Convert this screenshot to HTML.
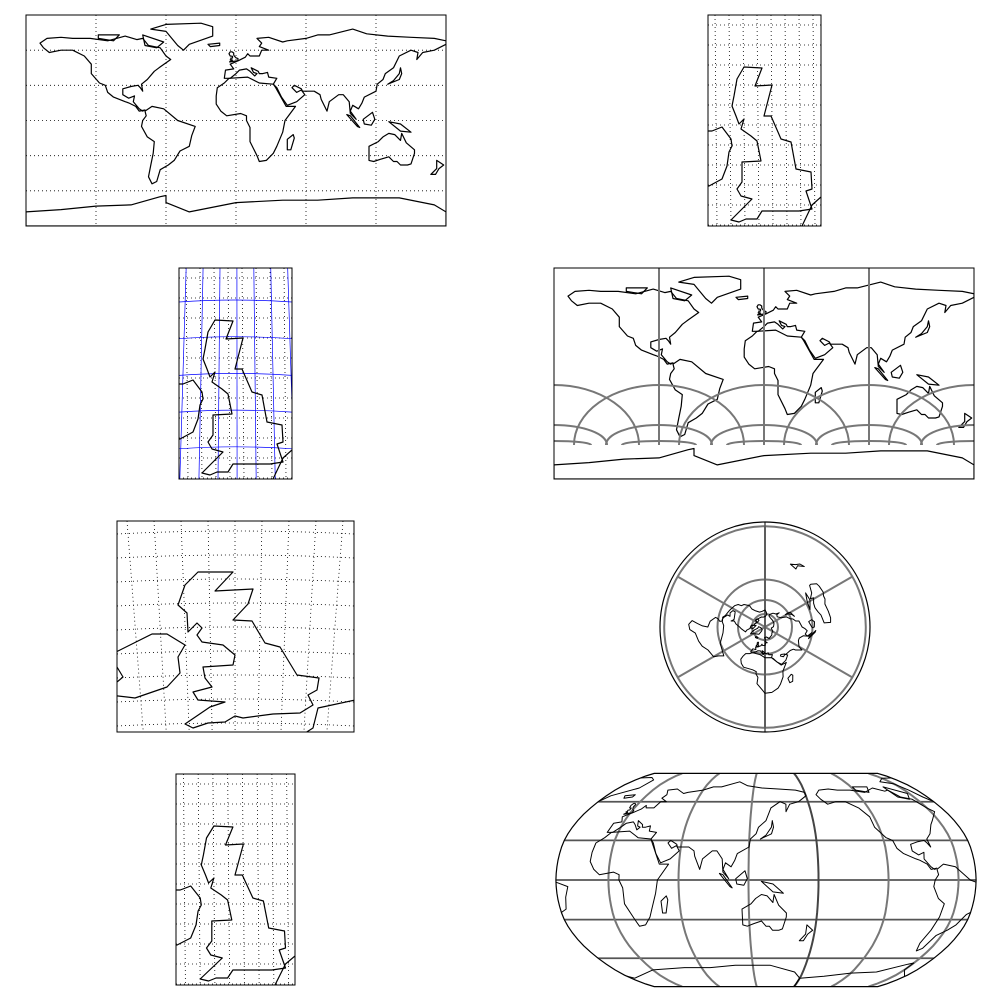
<!DOCTYPE html>
<html><head><meta charset="utf-8"><title>Map projections</title>
<style>html,body{margin:0;padding:0;background:#fff}svg{display:block}</style></head>
<body>
<svg id="fig" xmlns="http://www.w3.org/2000/svg" width="1000" height="1000" viewBox="0 0 1000 1000">
<rect width="1000" height="1000" fill="#fff"/>
<defs id="defs"></defs>
</svg>
<script>
// ---------- coastline data (lon, lat) ----------
const northAmerica=[[-168,66],[-162,70],[-150,71],[-140,70],[-125,70],[-110,68],[-95,72],[-85,69],[-80,70],[-75,64],[-65,62],[-60,55],[-56,52],[-66,45],[-70,42],[-76,35],[-81,31],[-80,25],[-82,28],[-84,30],[-90,29],[-97,27],[-97,22],[-92,19],[-87,21],[-88,16],[-83,10],[-80,8],[-78,9],[-83,8],[-86,12],[-92,15],[-95,16],[-105,20],[-110,24],[-112,30],[-117,32],[-124,40],[-124,48],[-130,55],[-140,60],[-150,60],[-160,58],[-165,62]];
const southAmerica=[[-78,8],[-72,12],[-62,10],[-50,0],[-35,-5],[-38,-13],[-40,-22],[-48,-26],[-53,-34],[-58,-38],[-65,-42],[-68,-52],[-72,-54],[-75,-48],[-73,-38],[-71,-28],[-70,-18],[-76,-14],[-81,-5],[-80,0],[-77,4]];
const africa=[[-17,21],[-16,28],[-10,32],[-6,36],[10,37],[20,32],[32,31],[34,28],[43,12],[51,12],[42,0],[40,-10],[35,-22],[32,-28],[26,-34],[20,-35],[18,-30],[12,-18],[12,-6],[9,0],[9,4],[4,6],[-8,4],[-13,8],[-17,14]];
const eurasia=[[-10,36],[-9,43],[-2,44],[-5,48],[2,51],[8,54],[10,57],[12,55],[20,55],[22,60],[28,60],[20,63],[22,66],[18,70],[28,71],[40,67],[44,68],[60,70],[70,73],[80,73],[100,78],[112,74],[130,72],[150,71],[170,70],[180,68],[180,65],[170,60],[160,58],[155,52],[156,58],[150,60],[140,55],[135,45],[128,40],[126,35],[121,31],[120,25],[110,20],[108,15],[105,10],[100,13],[98,8],[103,1],[98,6],[97,16],[92,22],[88,22],[80,16],[78,8],[73,18],[72,22],[67,25],[57,25],[56,27],[50,30],[48,28],[52,24],[56,26],[59,22],[52,16],[44,13],[39,20],[35,28],[32,31],[35,36],[28,37],[27,41],[23,40],[20,40],[19,42],[13,45],[15,41],[18,40],[16,38],[12,42],[9,44],[3,43],[0,40],[-5,36]];
const australia=[[114,-22],[114,-34],[118,-35],[124,-33],[131,-31],[135,-35],[138,-35],[141,-38],[147,-38],[150,-37],[153,-28],[153,-25],[146,-19],[142,-11],[141,-17],[136,-12],[131,-11],[126,-14],[122,-18]];
const antarctica=[[-180,-78],[-150,-76],[-120,-73],[-90,-72],[-65,-65],[-60,-64],[-60,-70],[-40,-78],[0,-70],[40,-68],[70,-68],[100,-66],[140,-66],[170,-72],[180,-78],[180,-90],[-180,-90]];
const greenland=[[-73,78],[-60,82],[-30,83],[-20,80],[-20,72],[-40,65],[-45,60],[-50,64],[-55,70],[-60,76]];
const baffin=[[-80,73],[-62,67],[-68,62],[-78,64]];
const victoriaIsland=[[-118,73],[-100,73],[-105,68],[-118,70]];
const madagascar=[[44,-25],[47,-25],[50,-15],[49,-12],[44,-16]];
const japan=[[130,31],[140,35],[142,40],[141,45],[140,40],[135,34]];
const borneo=[[109,1],[117,7],[119,1],[116,-4],[110,-3]];
const sumatra=[[95,5],[98,4],[106,-6],[104,-5]];
const newGuinea=[[131,-1],[141,-3],[150,-10],[141,-9]];
const newZealand=[[172,-34],[178,-38],[174,-41],[171,-46],[167,-46],[172,-41]];
const iceland=[[-24,65],[-14,66],[-14,64],[-22,63]];
const britain=[[-5,50],[1.5,51],[1.7,52.8],[0,53.5],[-1.5,55],[-2,56],[-2,57.6],[-3.5,58.6],[-5,58.6],[-6,57],[-5.5,56],[-5,55],[-3,54.8],[-3,54],[-3,53.3],[-4.5,53.2],[-4.2,52.2],[-5,51.7],[-3,51.5],[-5.5,50]];
const landmasses=[northAmerica,southAmerica,africa,eurasia,australia,antarctica,greenland,baffin,victoriaIsland,madagascar,japan,borneo,sumatra,newGuinea,newZealand,iceland,britain];

// UK outline in panel units (offset from UK panel origin)
const ukGB=[[36,52],[54,53],[47,71],[64,70],[56,101],[63,101],[73,124],[83,127],[88,154],[103,157],[104,174],[98,176],[104,194],[91,196],[83,196],[54,196],[49,204],[38,204],[31,207],[23,205],[44,184],[33,181],[29,174],[34,167],[34,147],[53,146],[49,126],[43,121],[33,114],[36,104],[31,109],[28,101],[24,91],[26,81],[29,64]];
const ukIreland=[[0,116],[4,116],[14,112],[23,124],[24,131],[21,137],[19,151],[14,164],[1,171],[0,171]];
const ukFrance=[[113,182],[104,190],[94,211]];
// wide UK panel outline
const wGB=[[198,572],[233,572],[215,591],[253,589],[248,604],[233,620],[252,621],[265,643],[280,647],[297,675],[319,678],[317,690],[308,695],[313,705],[300,713],[273,714],[243,718],[235,716],[225,722],[208,723],[193,728],[185,724],[210,707],[225,702],[198,700],[193,692],[212,687],[205,678],[203,667],[233,665],[235,655],[223,645],[202,642],[197,635],[202,628],[197,623],[188,632],[187,613],[178,605],[185,585]];
const wIreland=[[110,655],[152,634],[167,634],[185,645],[178,657],[180,673],[167,687],[135,698],[110,695]];
const wIrelandBump=[[117,667],[123,677],[117,682]];
const wFrance=[[302,735],[313,728],[318,708],[355,700]];

// graticule values
const worldMeridians=[-120,-60,0,60,120];
const worldParallels=[-60,-30,0,30,60];
const robMeridians=[0,60,120,180,-120,-60];
const robParallels=[-60,-30,0,30,60];
const polarRings=[100.8,47.5,27,13];
const polarSpokes=[30,90,150,210,270,330];

const svg=document.getElementById('fig');
const defs=document.getElementById('defs');
const NS='http://www.w3.org/2000/svg';
function mk(tag,attrs,parent){const e=document.createElementNS(NS,tag);for(const k in attrs)e.setAttribute(k,attrs[k]);(parent||svg).appendChild(e);return e;}
function pathD(pts,close){return pts.map((p,i)=>(i?'L':'M')+p[0].toFixed(1)+','+p[1].toFixed(1)).join('')+(close?'Z':'');}
let clipN=0;
function clipRect(x,y,w,h){const id='c'+(clipN++);const c=mk('clipPath',{id:id},defs);mk('rect',{x:x,y:y,width:w,height:h},c);return 'url(#'+id+')';}
function group(name,clip){const g=mk('g',clip?{'clip-path':clip}:{});


return g;}
function frame(x,y,w,h,name){const r=mk('rect',{x:x,y:y,width:w,height:h,fill:'none',stroke:'#000','stroke-width':1});

}
function line(g,x1,y1,x2,y2,st){mk('line',Object.assign({x1:x1,y1:y1,x2:x2,y2:y2},st),g);}
const dotted={stroke:'#000','stroke-width':0.8,'stroke-dasharray':'1,3',fill:'none'};
const coast={fill:'none',stroke:'#000','stroke-width':1.2,'stroke-linejoin':'round'};
const gray={fill:'none',stroke:'#777','stroke-width':2};

// ---------- Panel 1 & 4: plate carree ----------
function plate(ox,oy,w,h){return p=>[ox+(p[0]+180)/360*w,oy+(90-p[1])/180*h];}
function drawPlate(ox,oy,name,extra){
  const w=420,h=211,pr=plate(ox,oy,w,h);
  const g=group(name,clipRect(ox,oy,w,h));
  if(!extra){
    worldMeridians.forEach(l=>{const a=pr([l,0]);line(g,a[0],oy,a[0],oy+h,dotted);});
    worldParallels.forEach(l=>{const a=pr([0,l]);line(g,ox,a[1],ox+w,a[1],dotted);});
  }
  landmasses.forEach(m=>{const e=mk('path',Object.assign({d:pathD(m.map(pr),true)},coast),g);
  
  });
  if(extra){
    [-90,0,90].forEach(l=>{const a=pr([l,0]);line(g,a[0],oy,a[0],oy+177,gray);});
    [-180,-90,0,90,180].forEach(l=>{const a=pr([l,0]);
      [[85,60],[53,20],[37,4]].forEach(r=>{mk('path',Object.assign({d:'M'+(a[0]-r[0])+','+(oy+177)+' A'+r[0]+','+r[1]+' 0 0 1 '+(a[0]+r[0])+','+(oy+177)},gray),g);});
    });
  }
  frame(ox,oy,w,h,name+'-frame');
}
drawPlate(26,15,'world-map-platecarree',false);
drawPlate(554,268,'world-map-tissot',true);

// ---------- UK narrow panels ----------
function drawUK(ox,oy,w,name,blue){
  const h=211,sx=w/113;
  const g=group(name,clipRect(ox,oy,w,h));
  const T=p=>[ox+p[0]*sx,oy+p[1]];
  for(let i=0;i<9;i++){const x=ox+(8+i*14)*sx;line(g,x-1,oy,x+1,oy+h,dotted);}
  for(let j=0;j<11;j++){const y=oy+10+j*20;line(g,ox,y,ox+w,y,dotted);}
  if(blue){
    const bs={stroke:'#0000ff','stroke-width':0.7,fill:'none'};
    for(let i=0;i<7;i++){const xm=ox+(4+i*18)*sx,d=(xm-ox-w/2)*0.06;line(g,xm-d,oy,xm+d,oy+h,bs);}
    for(let j=0;j<6;j++){const y=oy+32+j*36.7;mk('path',Object.assign({d:'M'+ox+','+(y+2)+' Q'+(ox+w/2)+','+(y-2)+' '+(ox+w)+','+(y+2)},bs),g);}
  }
  [[ukGB,true],[ukIreland,false],[ukFrance,false]].forEach(s=>{const e=mk('path',Object.assign({d:pathD(s[0].map(T),s[1])},coast),g);
  
  });
  frame(ox,oy,w,h,name+'-frame');
}
drawUK(708,15,113,'uk-map-top',false);
drawUK(179,268,113,'uk-map-blue-grid',true);
drawUK(176,774,119,'uk-map-bottom',false);

// ---------- UK wide panel ----------
(function(){
  const ox=117,oy=521,w=237,h=211;
  const g=group('uk-map-wide',clipRect(ox,oy,w,h));
  for(let i=0;i<9;i++){const xt=ox+27*i+10,xb=ox+w/2+(xt-ox-w/2)*0.85;line(g,xt,oy,xb,oy+h,dotted);}
  for(let j=0;j<9;j++){const y=oy+10+j*24;mk('path',Object.assign({d:'M'+ox+','+(y+3)+' Q'+(ox+w/2)+','+(y-3)+' '+(ox+w)+','+(y+3)},dotted),g);}
  [[wGB,true],[wIreland,false],[wIrelandBump,false],[wFrance,false]].forEach(s=>{const e=mk('path',Object.assign({d:pathD(s[0],s[1])},coast),g);
  
  });
  frame(ox,oy,w,h,'uk-map-wide-frame');
})();

// ---------- Polar panel (north polar, far extent) ----------
(function(){
  const cx=765,cy=627,R=105;
  const id='c'+(clipN++);const c=mk('clipPath',{id:id},defs);mk('circle',{cx:cx,cy:cy,r:R},c);
  const g=group('polar-map','url(#'+id+')');
  const pr=p=>{const r=(90-p[1])*0.53,a=(90-(p[0]-20))*Math.PI/180;return [cx+r*Math.cos(a),cy+r*Math.sin(a)];};
  polarRings.forEach(r=>mk('circle',Object.assign({cx:cx,cy:cy,r:r},gray),g));
  polarSpokes.forEach(a=>{const t=a*Math.PI/180;line(g,cx,cy,cx+polarRings[0]*Math.cos(t),cy+polarRings[0]*Math.sin(t),gray);});
  line(g,cx,cy-R,cx,cy+R,{stroke:'#555','stroke-width':1.5});
  landmasses.forEach(m=>{if(m===antarctica)return;const e=mk('path',Object.assign({d:pathD(m.map(pr),true)},coast,{'stroke-width':1}),g);
  
  });
  const o=mk('circle',{cx:cx,cy:cy,r:R,fill:'none',stroke:'#000','stroke-width':1.2});
  
  
})();

// ---------- Robinson panel ----------
(function(){
  const RX=[1.0000,0.9986,0.9954,0.9900,0.9822,0.9730,0.9600,0.9427,0.9216,0.8962,0.8679,0.8350,0.7986,0.7597,0.7186,0.6732,0.6213,0.5722,0.5322];
  const RY=[0.0000,0.0620,0.1240,0.1860,0.2480,0.3100,0.3720,0.4340,0.4958,0.5571,0.6176,0.6769,0.7346,0.7903,0.8435,0.8936,0.9394,0.9761,1.0000];
  const cx=766,cy=880,Rr=78.8,lon0=135;
  function interp(T,lat){const a=Math.min(Math.abs(lat),90)/5,i=Math.min(Math.floor(a),17),f=a-i;return T[i]+(T[i+1]-T[i])*f;}
  const prRel=(l,lat)=>[cx+0.8487*Rr*interp(RX,lat)*l*Math.PI/180,cy-Math.sign(lat)*1.3523*Rr*interp(RY,lat)];
  const outline=[];for(let la=90;la>=-90;la-=5)outline.push(prRel(180,la));for(let la=-90;la<=90;la+=5)outline.push(prRel(-180,la));
  const id='c'+(clipN++);const c=mk('clipPath',{id:id},defs);mk('path',{d:pathD(outline,true)},c);
  const g=group('robinson-map','url(#'+id+')');
  robParallels.forEach(la=>{const a=prRel(0,la);line(g,550,a[1],990,a[1],{stroke:'#555','stroke-width':1.8});});
  robMeridians.forEach(l=>{let r=((l-lon0+540)%360)-180;const pts=[];for(let la=-90;la<=90;la+=5)pts.push(prRel(r,la));
    mk('path',Object.assign({d:pathD(pts,false)},gray,{stroke:l===180?'#444':'#777'}),g);});
  landmasses.forEach(m=>{let base=((m[0][0]-lon0+540)%360)-180;const rel=m.map(p=>p[0]-lon0);let off=base-rel[0];
    [-360,0,360].forEach(s=>{const pts=m.map((p,i)=>prRel(rel[i]+off+s,p[1]));
      const e=mk('path',Object.assign({d:pathD(pts,true)},coast,{'stroke-width':1}),g);
      
      });});
  const b=mk('path',{d:pathD(outline,true),fill:'none',stroke:'#000','stroke-width':1.2});
  
  
})();
</script>
</body></html>
